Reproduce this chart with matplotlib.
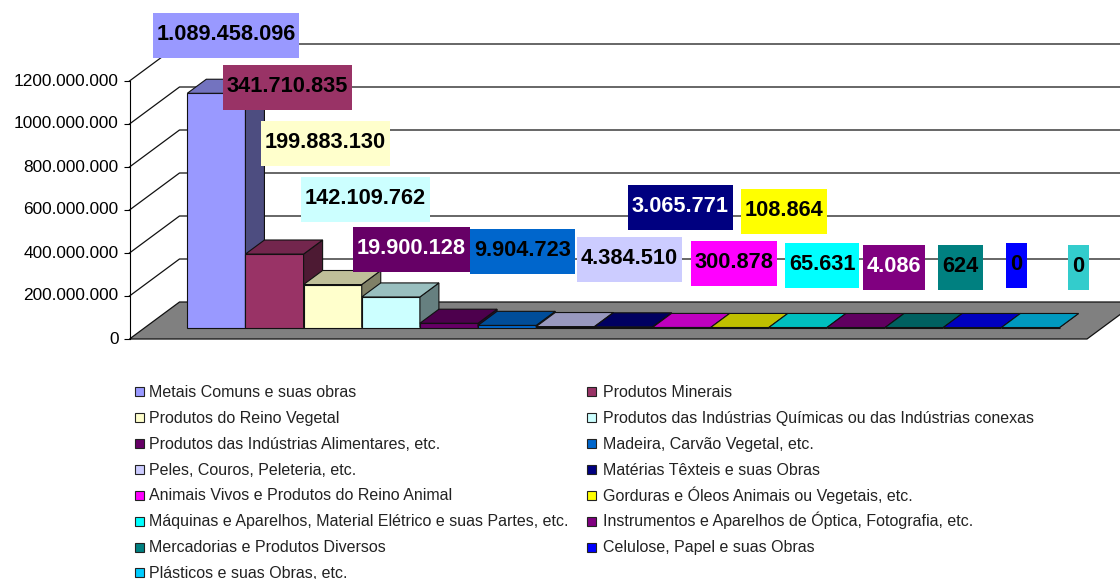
import matplotlib
matplotlib.use("Agg")
import matplotlib.pyplot as plt
from matplotlib.patches import Polygon, Rectangle
from matplotlib.transforms import Affine2D, ScaledTranslation
from matplotlib.colors import to_rgb

categories = [
    "Metais Comuns e suas obras", "Produtos Minerais",
    "Produtos do Reino Vegetal", "Produtos das Indústrias Químicas ou das Indústrias conexas",
    "Produtos das Indústrias Alimentares, etc.", "Madeira, Carvão Vegetal, etc.",
    "Peles, Couros, Peleteria, etc.", "Matérias Têxteis e suas Obras",
    "Animais Vivos e Produtos do Reino Animal", "Gorduras e Óleos Animais ou Vegetais, etc.",
    "Máquinas e Aparelhos, Material Elétrico e suas Partes, etc.",
    "Instrumentos e Aparelhos de Óptica, Fotografia, etc.",
    "Mercadorias e Produtos Diversos", "Celulose, Papel e suas Obras",
    "Plásticos e suas Obras, etc.",
]
values = [1089458096, 341710835, 199883130, 142109762, 19900128, 9904723, 4384510,
          3065771, 300878, 108864, 65631, 4086, 624, 0, 0]
yticks = [0, 200e6, 400e6, 600e6, 800e6, 1000e6, 1200e6]
ytick_labels = ["0", "200.000.000", "400.000.000", "600.000.000", "800.000.000",
                "1000.000.000", "1200.000.000"]

colors = ["#9999FF", "#993366", "#FFFFCC", "#CCFFFF", "#660066", "#0066CC", "#CCCCFF",
          "#000080", "#FF00FF", "#FFFF00", "#00FFFF", "#800080", "#008080", "#0000FF",
          "#00CCFF"]
label_colors = colors[:-1] + ["#33CCCC"]
white_text = [4, 7, 11]

# label boxes in image pixels: left, right, top, bottom
label_boxes = [(153, 299, 13, 58), (223, 352, 65, 110), (261, 390, 121, 166),
               (301, 430, 177, 222), (353, 470, 227, 272), (470, 575, 229, 274),
               (577, 682, 237, 282), (628, 733, 185, 230), (691, 777, 241, 286),
               (741, 827, 189, 234), (785, 859, 243, 288), (863, 925, 245, 290),
               (938, 983, 245, 290), (1006, 1027, 243, 288), (1068, 1089, 245, 290)]

FONT = "Liberation Sans"
W, H = 1120, 579
fig = plt.figure(figsize=(W / 100, H / 100), dpi=100)
fig.patch.set_facecolor("white")
px = Affine2D().scale(1, -1).translate(0, H)  # image pixels, y down

# axes spans the front edge of the box: 1200M at y=81, 0 at y=339
ax = fig.add_axes([129.5 / W, (H - 339) / H, (1087 - 129.5) / W, (339 - 81) / H])
ax.patch.set_visible(False)
x_unit = 58.15
x_zero = 187.3 + x_unit / 2 - 15.5
x_left = (129.5 - x_zero) / x_unit
x_right = (1087 - x_zero) / x_unit
ax.set_xlim(x_left, x_right)
ax.set_ylim(0, 1200e6)

# depth direction of the 3d box, in data units
DX = 50 / x_unit
DY = 37 / 43 * 200e6
BAR_FRONT = 0.31
BAR_BACK = 0.69


def pt(x, v, d):
    return (x + d * DX, v + d * DY)


def shade(c, f):
    return tuple(f * k for k in to_rgb(c))


for s in ["top", "right", "bottom"]:
    ax.spines[s].set_visible(False)
ax.spines["left"].set_linewidth(0.8)
ax.set_xticks([])
ax.set_yticks(yticks)
ax.set_yticklabels(ytick_labels, fontfamily=FONT, fontsize=12.4, color="black")
ax.tick_params(axis="y", length=4.5, width=0.8, pad=3.5)
for lab in ax.get_yticklabels():
    lab.set_transform(lab.get_transform() + ScaledTranslation(0, 1.5 / 100, fig.dpi_scale_trans))

# gridlines on side and back walls
for t in yticks[1:]:
    a, b, c = pt(x_left, t, 0), pt(x_left, t, 1), pt(x_right + 1, t, 1)
    ax.plot([a[0], b[0], c[0]], [a[1], b[1], c[1]], color="#111111", lw=0.9,
            clip_on=False, zorder=1)

# floor
floor = [pt(x_left, 0, 0), pt(x_left, 0, 1), pt(x_right, 0, 1), pt(x_right, 0, 0)]
ax.add_patch(Polygon(floor, closed=True, facecolor="#808080", edgecolor="#111111",
                     lw=0.9, clip_on=False, zorder=2))

# bars, left to right so each one covers the side of the previous
for i, (v, c) in enumerate(zip(values, colors)):
    z = 3 + i
    l, r = i - 0.5, i + 0.5
    base = BAR_FRONT * DY
    ax.bar(l + BAR_FRONT * DX, v, width=1, bottom=base, align="edge", color=c,
           edgecolor="#111111", lw=0.8, clip_on=False, zorder=z)
    top = [pt(l, v, BAR_FRONT), pt(l, v, BAR_BACK), pt(r, v, BAR_BACK), pt(r, v, BAR_FRONT)]
    side = [pt(r, 0, BAR_FRONT), pt(r, 0, BAR_BACK), pt(r, v, BAR_BACK), pt(r, v, BAR_FRONT)]
    ax.add_patch(Polygon(side, closed=True, facecolor=shade(c, 0.5), edgecolor="#111111",
                         lw=0.8, clip_on=False, zorder=z))
    ax.add_patch(Polygon(top, closed=True, facecolor=shade(c, 0.75), edgecolor="#111111",
                         lw=0.8, clip_on=False, zorder=z))

# value labels
for i, (v, box) in enumerate(zip(values, label_boxes)):
    x0, x1, y0, y1 = box
    fig.add_artist(Rectangle((x0, y0), x1 - x0, y1 - y0, transform=px,
                             facecolor=label_colors[i], edgecolor="none", zorder=20))
    fig.text((x0 + x1) / 2, (y0 + y1) / 2 - 1, f"{v:,}".replace(",", "."), transform=px,
             ha="center", va="center", fontfamily=FONT, fontweight="bold", fontsize=15.7,
             color="white" if i in white_text else "black", zorder=21)

# legend, two columns filled row by row
for i, (name, c) in enumerate(zip(categories, colors)):
    col, row = i % 2, i // 2
    y = 391.3 + row * 25.95
    mx = [135, 587][col]
    tx = [149, 603][col]
    fig.add_artist(Rectangle((mx, y - 4.5), 9, 9, transform=px, facecolor=c,
                             edgecolor="#222222", lw=0.8, zorder=20))
    fig.text(tx, y + 5.4, name, transform=px, ha="left", va="baseline", fontfamily=FONT,
             fontsize=11.5, color="#222222", zorder=21)

fig.savefig("out.png", dpi=100)
